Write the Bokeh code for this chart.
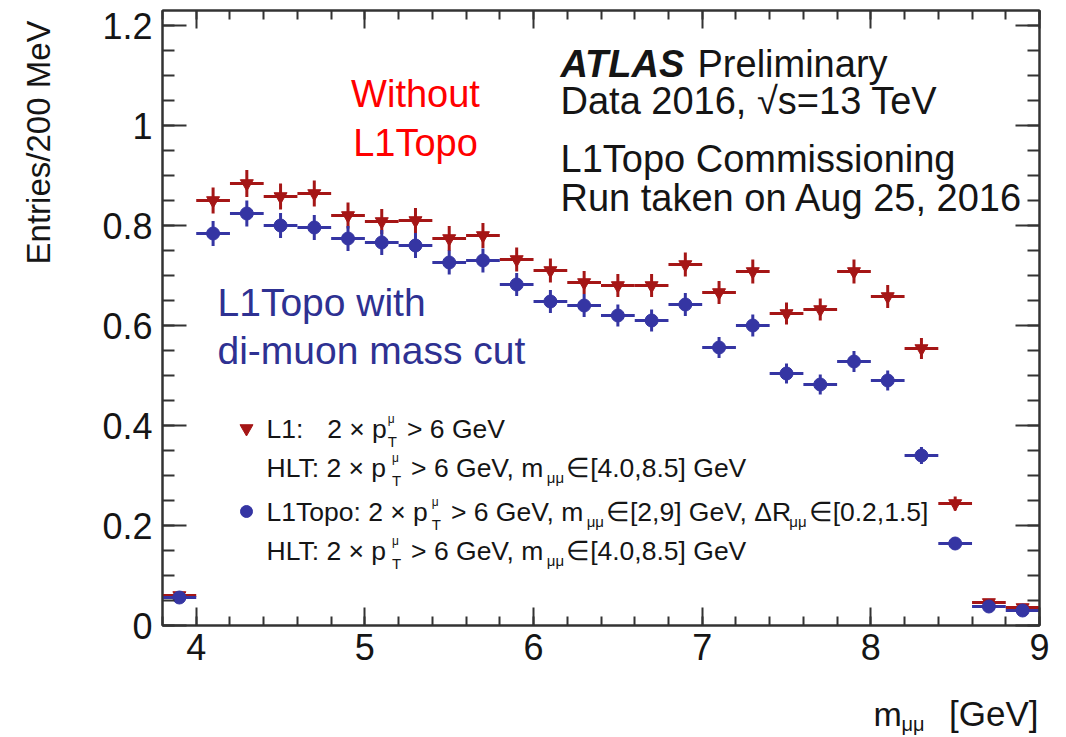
import numpy as np
from bokeh.plotting import figure
from bokeh.layouts import row, column
from bokeh.models import Range1d, FixedTicker, LinearAxis, Label, CustomJSTickFormatter, ColumnDataSource
from bokeh.core.properties import value
from bokeh.embed import file_html
from bokeh.resources import INLINE

# ---------------- data ----------------
mass_bins = [3.9, 4.1, 4.3, 4.5, 4.7, 4.9, 5.1, 5.3, 5.5, 5.7, 5.9, 6.1, 6.3,
             6.5, 6.7, 6.9, 7.1, 7.3, 7.5, 7.7, 7.9, 8.1, 8.3, 8.5, 8.7, 8.9]
bin_half_width = 0.1
l1_entries = [0.060, 0.850, 0.884, 0.858, 0.864, 0.820, 0.808, 0.810, 0.774, 0.780,
              0.732, 0.710, 0.686, 0.680, 0.680, 0.722, 0.666, 0.708, 0.624, 0.632,
              0.708, 0.658, 0.554, 0.244, 0.046, 0.036]
l1_errors = [0.008, 0.026, 0.027, 0.026, 0.026, 0.026, 0.025, 0.025, 0.025, 0.025,
             0.024, 0.024, 0.023, 0.023, 0.023, 0.024, 0.023, 0.024, 0.022, 0.022,
             0.024, 0.023, 0.021, 0.014, 0.006, 0.005]
topo_entries = [0.056, 0.784, 0.824, 0.800, 0.796, 0.774, 0.766, 0.760, 0.726, 0.730,
                0.682, 0.648, 0.640, 0.620, 0.610, 0.642, 0.556, 0.600, 0.504, 0.482,
                0.528, 0.490, 0.340, 0.164, 0.038, 0.030]
topo_errors = [0.008, 0.025, 0.026, 0.025, 0.025, 0.025, 0.025, 0.025, 0.024, 0.024,
               0.023, 0.023, 0.023, 0.022, 0.022, 0.023, 0.021, 0.022, 0.020, 0.020,
               0.021, 0.020, 0.017, 0.012, 0.006, 0.005]
x_tick_values = [4, 5, 6, 7, 8, 9]
x_tick_labels = ["4", "5", "6", "7", "8", "9"]
y_tick_values = [0, 0.2, 0.4, 0.6, 0.8, 1.0, 1.2]
y_tick_labels = ["0", "0.2", "0.4", "0.6", "0.8", "1", "1.2"]

# ---------------- style / layout ----------------
FONT = "Liberation Sans"
RED = "#a51616"
BLUE = "#3535a3"
TXT_BLUE = "#2e3192"
INK = "#151515"
X0, X1 = 3.8, 9.0
Y0, Y1 = 0.0, 1.23
LEFT_W = 68                      # strip holding the y-axis title
FRAME_W, FRAME_H = 877, 615
BORDER_L, BORDER_R, BORDER_T, BORDER_B = 94, 27, 10, 55
MAIN_W = BORDER_L + FRAME_W + BORDER_R
MAIN_H = BORDER_T + FRAME_H + BORDER_B
BOTTOM_H = 57                    # strip holding the x-axis title
FRAME_LEFT_PAGE = LEFT_W + BORDER_L
FRAME_BOTTOM_PAGE = BORDER_T + FRAME_H
PXX = FRAME_W / (X1 - X0)
PXY = FRAME_H / (Y1 - Y0)


def X(px):
    return X0 + (px - FRAME_LEFT_PAGE) / PXX


def Y(py):
    return Y0 + (FRAME_BOTTOM_PAGE - py) / PXY


p = figure(frame_width=FRAME_W, frame_height=FRAME_H,
           x_range=Range1d(X0, X1), y_range=Range1d(Y0, Y1),
           output_backend="svg", toolbar_location=None,
           min_border_left=BORDER_L, min_border_right=BORDER_R,
           min_border_top=BORDER_T, min_border_bottom=BORDER_B,
           background_fill_color="white", border_fill_color="white")
p.grid.visible = False
p.outline_line_color = "#333333"
p.outline_line_width = 2

x_minor = [round(v, 2) for v in np.arange(3.8, 9.0001, 0.2)]
y_minor = [round(v, 2) for v in np.arange(0.0, 1.2301, 0.05)]
xt = FixedTicker(ticks=x_tick_values, minor_ticks=x_minor)
yt = FixedTicker(ticks=y_tick_values, minor_ticks=y_minor)
fmt_code = "const i = vals.findIndex(v => Math.abs(v - tick) < 1e-6); return i >= 0 ? labs[i] : '';"
xfmt = CustomJSTickFormatter(args=dict(vals=x_tick_values, labs=x_tick_labels), code=fmt_code)
yfmt = CustomJSTickFormatter(args=dict(vals=y_tick_values, labs=y_tick_labels), code=fmt_code)


def style_axis(ax, ticker, fmt, tick_in, minor_in, show_labels, standoff):
    ax.ticker = ticker
    ax.formatter = fmt
    ax.axis_line_color = "#333333"
    ax.axis_line_width = 2
    ax.major_tick_line_color = "#333333"
    ax.minor_tick_line_color = "#333333"
    ax.major_tick_line_width = 2
    ax.minor_tick_line_width = 2
    ax.major_tick_in = tick_in
    ax.major_tick_out = 0
    ax.minor_tick_in = minor_in
    ax.minor_tick_out = 0
    ax.major_label_standoff = standoff
    ax.major_label_text_font = FONT
    ax.major_label_text_color = INK
    ax.major_label_text_font_size = "36px" if show_labels else "0px"
    if not show_labels:
        ax.major_label_text_alpha = 0


style_axis(p.xaxis[0], xt, xfmt, 18, 9, True, 8)
style_axis(p.yaxis[0], yt, yfmt, 24, 12, True, 10)
top_ax = LinearAxis()
style_axis(top_ax, xt, xfmt, 18, 9, False, 0)
right_ax = LinearAxis()
style_axis(right_ax, yt, yfmt, 24, 12, False, 0)
p.add_layout(top_ax, "above")
p.add_layout(right_ax, "right")


def draw_series(xs, ys, errs, color, marker, size):
    xs = np.array(xs, dtype=float)
    ys = np.array(ys, dtype=float)
    es = np.array(errs, dtype=float)
    src = ColumnDataSource(dict(x=xs, y=ys, xl=xs - bin_half_width, xr=xs + bin_half_width,
                                yl=ys - es, yh=ys + es))
    p.segment(x0="xl", y0="y", x1="xr", y1="y", source=src, line_color=color, line_width=3)
    p.segment(x0="x", y0="yl", x1="x", y1="yh", source=src, line_color=color, line_width=3)
    p.scatter(x="x", y="y", source=src, marker=marker, size=size,
              fill_color=color, line_color=color)


draw_series(mass_bins, l1_entries, l1_errors, RED, "inverted_triangle", 13)
draw_series(mass_bins, topo_entries, topo_errors, BLUE, "circle", 13)


# ---------------- text inside the frame ----------------
def add_text(px, py, txt, size, color=INK, align="left", style="normal", angle=0.0):
    p.add_layout(Label(x=X(px), y=Y(py), x_units="data", y_units="data", text=txt,
                       text_font=FONT, text_font_size=f"{size}px", text_color=color,
                       text_align=align, text_baseline="middle", text_font_style=style,
                       angle=angle))


# Arial-like advance widths (em) for the legend layout
W = {" ": .278, ".": .278, ",": .278, ":": .278, "[": .278, "]": .278, ">": .584,
     "×": .584, "∈": .713, "Δ": .668, "μ": .576, "-": .333,
     "A": .667, "G": .778, "H": .722, "L": .556, "R": .722, "T": .611, "V": .667,
     "e": .556, "m": .833, "o": .556, "p": .556}


def tw(s, size):
    return sum(W.get(c, .556) for c in s) * size


LEG_F = 26.5
SCR_F = 15


def legend_row(x0, yc, pieces):
    x = x0
    for kind, val in pieces:
        if kind == "t":
            add_text(x, yc, val, LEG_F)
            x += tw(val, LEG_F)
        elif kind == "gap":
            x += val * LEG_F
        elif kind == "ss":
            add_text(x + 1, yc - 10, "μ", SCR_F - 3)
            add_text(x + 1, yc + 13, "T", SCR_F)
            x += tw("T", SCR_F) + 3
        elif kind == "sub":
            add_text(x + 1, yc + 10, val, SCR_F)
            x += tw(val, SCR_F) + 3


hlt_row = [("t", "HLT: 2 × p"), ("ss", None), ("gap", .3), ("t", "> 6 GeV, m"),
           ("sub", "μμ"), ("t", "∈[4.0,8.5] GeV")]
legend_row(266, 428, [("t", "L1:"), ("gap", .9), ("t", "2 × p"), ("ss", None),
                      ("gap", .3), ("t", "> 6 GeV")])
legend_row(266, 467, hlt_row)
legend_row(266, 511, [("t", "L1Topo: 2 × p"), ("ss", None), ("gap", .3), ("t", "> 6 GeV, m"),
                      ("sub", "μμ"), ("t", "∈[2,9] GeV, ΔR"), ("sub", "μμ"),
                      ("t", "∈[0.2,1.5]")])
legend_row(266, 550, hlt_row)

# legend sample markers
p.scatter(x=[X(246)], y=[Y(428)], marker="inverted_triangle", size=13,
          fill_color=RED, line_color=RED)
p.scatter(x=[X(246)], y=[Y(511)], marker="circle", size=12,
          fill_color=BLUE, line_color=BLUE)

# ATLAS block
add_text(560, 63, "ATLAS", 38, style="bold italic")
add_text(697, 63, "Preliminary", 38)
add_text(560, 100, "Data 2016, √s=13 TeV", 38)
add_text(560, 158, "L1Topo Commissioning", 38)
add_text(560, 197, "Run taken on Aug 25, 2016", 38)

# coloured annotations
add_text(415, 93, "Without", 38, color="#ff0000", align="center")
add_text(415, 142, "L1Topo", 38, color="#ff0000", align="center")
add_text(217, 302, "L1Topo with", 39, color=TXT_BLUE)
add_text(217, 350, "di-muon mass cut", 39, color=TXT_BLUE)


# ---------------- axis titles in their own strips ----------------
def strip(w, h, xr):
    f = figure(width=w, height=h, x_range=xr, y_range=Range1d(0, h),
               output_backend="svg", toolbar_location=None,
               x_axis_location=None, y_axis_location=None,
               min_border=0, min_border_left=0, min_border_right=0,
               min_border_top=0, min_border_bottom=0,
               background_fill_color="white", border_fill_color="white")
    f.grid.visible = False
    f.outline_line_color = None
    return f


left = strip(LEFT_W, MAIN_H, Range1d(0, LEFT_W))
left.text(x=[38], y=[MAIN_H - 20], text=["Entries/200 MeV"], angle=np.pi / 2,
          text_align="right", text_baseline="middle", text_font=value(FONT),
          text_font_size="33px", text_color=INK)

# the bottom strip's frame lines up with the main frame, so it shares the x mapping
bottom = strip(MAIN_W, BOTTOM_H, Range1d(X0, X1))
BY0 = MAIN_H                      # page y of the strip's top edge
bottom.text(x=[X(1038)], y=[BOTTOM_H - (713 - BY0)], text=["[GeV]"],
            text_align="right", text_baseline="middle", text_font=value(FONT),
            text_font_size="35px", text_color=INK)
bottom.text(x=[X(873)], y=[BOTTOM_H - (713 - BY0)], text=["m"],
            text_align="left", text_baseline="middle", text_font=value(FONT),
            text_font_size="34px", text_color=INK)
bottom.text(x=[X(901)], y=[BOTTOM_H - (723 - BY0)], text=["μμ"],
            text_align="left", text_baseline="middle", text_font=value(FONT),
            text_font_size="20px", text_color=INK)

layout = row(left, column(p, bottom))
open("out.html", "w").write(file_html(layout, INLINE))
